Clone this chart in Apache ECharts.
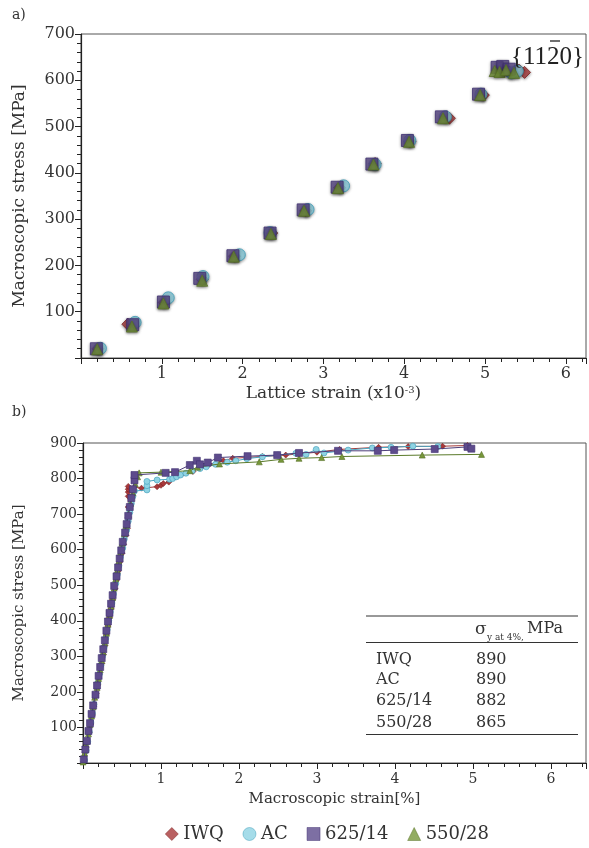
<!DOCTYPE html>
<html>
<head>
<meta charset="utf-8">
<script src="https://cdn.jsdelivr.net/npm/echarts@6/dist/echarts.min.js"></script>
<style>
  html, body { margin: 0; padding: 0; background: #fff; }
  #chart { width: 589px; height: 848px; }
</style>
</head>
<body>
<div id="chart"></div>
<script>
// series names
var names = ['IWQ', 'AC', '625/14', '550/28'];

// a) lattice strain (x10^-3) vs macroscopic stress, {11-20} reflection
var latticeIWQ = [[0.21,20],[0.58,73],[1.03,120],[1.5,170],[1.9,220],[2.36,270],[2.78,318],[3.2,368],[3.64,420],[4.07,468],[4.56,518],[4.98,568],[5.3,618],[5.42,622],[5.49,617]];
var latticeAC = [[0.24,21],[0.67,77],[1.08,130],[1.51,176],[1.96,223],[2.34,271],[2.81,321],[3.25,372],[3.64,418],[4.07,470],[4.51,521],[4.95,570],[5.2,625],[5.33,616],[5.4,620]];
var lattice625 = [[0.19,20],[0.64,72],[1.02,121],[1.47,172],[1.88,221],[2.34,270],[2.75,320],[3.17,369],[3.6,419],[4.04,470],[4.46,521],[4.92,570],[5.15,628],[5.22,630],[5.3,624]];
var lattice550 = [[0.2,19],[0.63,68],[1.02,118],[1.5,167],[1.89,219],[2.35,268],[2.76,318],[3.18,367],[3.62,418],[4.06,467],[4.48,518],[4.94,568],[5.12,620],[5.18,618],[5.26,622],[5.36,616]];

// b) macroscopic strain [%] vs macroscopic stress [MPa]
var curveIWQ = [[0.01,5],[0.03,30],[0.05,55],[0.08,85],[0.1,110],[0.12,135],[0.14,160],[0.17,195],[0.19,220],[0.21,250],[0.24,280],[0.26,305],[0.28,330],[0.3,360],[0.32,385],[0.34,410],[0.36,435],[0.38,460],[0.41,490],[0.43,515],[0.45,540],[0.47,565],[0.5,590],[0.52,615],[0.55,640],[0.57,660],[0.58,690],[0.58,720],[0.58,750],[0.58,762],[0.58,770],[0.58,778],[0.75,773],[0.95,777],[1.0,781],[1.03,786],[1.1,790],[1.41,820],[1.53,834],[1.62,840],[1.8,850],[1.92,857],[2.3,862],[2.6,866],[3.0,874],[3.29,882],[3.79,888],[4.17,890],[4.61,891],[4.93,893]];
var curveAC = [[0.02,8],[0.04,35],[0.06,60],[0.08,88],[0.1,115],[0.12,140],[0.14,165],[0.16,190],[0.19,225],[0.21,250],[0.23,275],[0.25,300],[0.27,325],[0.29,350],[0.31,375],[0.33,400],[0.35,425],[0.37,450],[0.39,475],[0.42,505],[0.44,530],[0.46,555],[0.48,580],[0.51,605],[0.53,630],[0.56,655],[0.58,680],[0.6,705],[0.62,730],[0.64,750],[0.66,765],[0.82,768],[0.82,780],[0.82,792],[0.95,796],[1.11,798],[1.15,800],[1.2,805],[1.25,810],[1.32,815],[1.4,822],[1.5,828],[1.58,833],[1.7,840],[1.85,846],[1.96,850],[2.1,856],[2.3,861],[2.5,866],[2.73,871],[2.86,868],[2.99,882],[3.09,872],[3.4,880],[3.71,886],[3.95,888],[4.23,891],[4.55,890]];
var curve625 = [[0.01,10],[0.03,38],[0.05,62],[0.07,90],[0.09,112],[0.11,138],[0.13,162],[0.16,192],[0.18,218],[0.2,245],[0.22,270],[0.24,295],[0.26,320],[0.28,345],[0.3,372],[0.32,398],[0.34,422],[0.36,448],[0.38,472],[0.4,498],[0.43,525],[0.45,550],[0.47,575],[0.49,598],[0.51,622],[0.54,648],[0.56,672],[0.58,695],[0.6,720],[0.62,745],[0.64,770],[0.66,795],[0.66,810],[1.06,816],[1.18,818],[1.37,838],[1.46,850],[1.5,840],[1.6,845],[1.73,859],[2.11,863],[2.49,866],[2.77,872],[3.27,878],[3.78,878],[3.99,880],[4.51,883],[4.93,889],[4.98,884]];
var curve550 = [[0.0,3],[0.02,28],[0.04,52],[0.07,82],[0.09,108],[0.11,132],[0.13,158],[0.15,185],[0.18,212],[0.2,238],[0.22,262],[0.24,288],[0.26,312],[0.28,338],[0.3,365],[0.32,390],[0.34,415],[0.36,440],[0.38,465],[0.4,492],[0.42,518],[0.44,542],[0.46,568],[0.48,592],[0.5,618],[0.53,645],[0.55,668],[0.58,700],[0.61,730],[0.64,760],[0.67,785],[0.7,805],[0.72,816],[1.0,818],[1.37,822],[1.47,832],[1.75,841],[2.26,847],[2.54,854],[2.77,857],[3.06,859],[3.32,862],[4.35,866],[5.11,868]];

// yield stress table
var tableNames = ['IWQ', 'AC', '625/14', '550/28'];
var tableValues = [890, 890, 882, 865];

var fills = ['#a8383a', '#8fd3e3', '#5d4b8c', '#77973a'];
var edges = ['#7a2020', '#3d9cb8', '#3f3070', '#566f25'];
var lineColors = ['#a33a3a', '#4aa7c2', '#4e3f7a', '#5a7a2a'];
var symbols = ['diamond', 'circle', 'rect', 'triangle'];
var topSizes = [12, 12, 12, 11];
var botSizes = [6, 6, 7, 6];
var lattice = [latticeIWQ, latticeAC, lattice625, lattice550];
var curves = [curveIWQ, curveAC, curve625, curve550];

var font = 'DejaVu Serif';
var txt = '#333';

var chart = echarts.init(document.getElementById('chart'));

function intLabel(v) {
  return (v === 0 || Math.round(v) !== v) ? '' : String(v);
}

function valueAxis(gi, opt) {
  return Object.assign({
    type: 'value',
    gridIndex: gi,
    axisLine: {lineStyle: {color: '#222', width: 1.2}},
    axisTick: {show: true, inside: false, length: 6, lineStyle: {color: '#222'}},
    minorTick: {show: true, splitNumber: 5, length: 4, lineStyle: {color: '#222'}},
    splitLine: {show: false},
    nameLocation: 'middle',
    nameTextStyle: {fontFamily: font, color: txt}
  }, opt);
}

var series = [];
names.forEach(function(n, i) {
  series.push({
    name: n,
    type: 'scatter',
    xAxisIndex: 0,
    yAxisIndex: 0,
    symbol: symbols[i],
    symbolSize: topSizes[i],
    z: 2 + i,
    itemStyle: {
      color: fills[i],
      borderColor: edges[i],
      borderWidth: 1,
      shadowBlur: 3,
      shadowColor: 'rgba(0,0,0,0.45)',
      shadowOffsetY: 1
    },
    data: lattice[i]
  });
});
var botZ = [2, 3, 5, 4];
names.forEach(function(n, i) {
  series.push({
    name: n,
    type: 'line',
    xAxisIndex: 1,
    yAxisIndex: 1,
    symbol: symbols[i],
    symbolSize: botSizes[i],
    showAllSymbol: true,
    z: botZ[i],
    lineStyle: {color: lineColors[i], width: 1},
    itemStyle: {color: fills[i], borderColor: edges[i], borderWidth: 0.6},
    data: curves[i]
  });
});

var graphic = [
  {type: 'text', left: 12, top: 8, style: {text: 'a)', font: '14px ' + font, fill: txt}},
  {type: 'text', left: 12, top: 405, style: {text: 'b)', font: '14px ' + font, fill: txt}},
  {type: 'text', x: 511, y: 57, style: {text: '{1120}', font: '25px "Liberation Serif"', fill: '#222', textVerticalAlign: 'middle'}, z: 20},
  {type: 'line', shape: {x1: 550, y1: 41, x2: 560, y2: 41}, style: {stroke: '#222', lineWidth: 1.3}, z: 20},
  // table
  {type: 'line', shape: {x1: 366, y1: 616, x2: 578, y2: 616}, style: {stroke: '#333', lineWidth: 1}},
  {type: 'line', shape: {x1: 366, y1: 642.5, x2: 578, y2: 642.5}, style: {stroke: '#333', lineWidth: 1}},
  {type: 'line', shape: {x1: 366, y1: 734.5, x2: 578, y2: 734.5}, style: {stroke: '#333', lineWidth: 1}},
  {type: 'text', x: 475, y: 630, style: {text: 'σ', font: '17px ' + font, fill: txt, textVerticalAlign: 'middle'}},
  {type: 'text', x: 487, y: 638, style: {text: 'y at 4%,', font: '9px ' + font, fill: txt, textVerticalAlign: 'middle'}},
  {type: 'text', x: 527, y: 629, style: {text: 'MPa', font: '16px ' + font, fill: txt, textVerticalAlign: 'middle'}}
];
var rowY = [660, 680, 701, 723];
tableNames.forEach(function(n, i) {
  graphic.push({type: 'text', x: 376, y: rowY[i], style: {text: n, font: '16px ' + font, fill: txt, textVerticalAlign: 'middle'}});
  graphic.push({type: 'text', x: 476, y: rowY[i], style: {text: String(tableValues[i]), font: '16px ' + font, fill: txt, textVerticalAlign: 'middle'}});
});

var option = {
  backgroundColor: '#fff',
  animation: false,
  textStyle: {fontFamily: font},
  grid: [
    {left: 81, top: 34, right: 2, bottom: 490, show: true, borderColor: '#555', borderWidth: 1, backgroundColor: 'transparent'},
    {left: 83, top: 443, right: 1, bottom: 85, show: true, borderColor: '#555', borderWidth: 1, backgroundColor: 'transparent'}
  ],
  xAxis: [
    valueAxis(0, {
      min: 0, max: 6.25, interval: 1,
      name: '{n|Lattice strain (x10}{s|-3}{n|)}',
      nameGap: 27,
      nameTextStyle: {
        fontFamily: font, color: txt,
        rich: {
          n: {fontFamily: font, fontSize: 17, color: txt},
          s: {fontFamily: font, fontSize: 10, color: txt, verticalAlign: 'top', padding: [0, 0, 8, 0]}
        }
      },
      axisLabel: {fontFamily: font, fontSize: 16, color: txt, margin: 8, formatter: intLabel}
    }),
    valueAxis(1, {
      min: 0, max: 6.45, interval: 1,
      name: 'Macroscopic strain[%]',
      nameGap: 29,
      nameTextStyle: {fontFamily: font, fontSize: 15, color: txt},
      axisLabel: {fontFamily: font, fontSize: 14, color: txt, margin: 9, formatter: intLabel}
    })
  ],
  yAxis: [
    valueAxis(0, {
      min: 0, max: 700, interval: 100,
      name: 'Macroscopic stress [MPa]',
      nameGap: 53,
      nameTextStyle: {fontFamily: font, fontSize: 17, color: txt},
      axisLabel: {fontFamily: font, fontSize: 16, color: txt, margin: 6, formatter: intLabel}
    }),
    valueAxis(1, {
      min: 0, max: 900, interval: 100,
      name: 'Macroscopic stress [MPa]',
      nameGap: 56,
      nameTextStyle: {fontFamily: font, fontSize: 15, color: txt},
      axisLabel: {fontFamily: font, fontSize: 14, color: txt, margin: 6, formatter: intLabel}
    })
  ],
  legend: {
    left: 160,
    top: 820,
    itemWidth: 13,
    itemHeight: 13,
    itemGap: 19,
    textStyle: {fontFamily: font, fontSize: 18, color: txt},
    data: names.map(function(n, i) {
      return {name: n, icon: symbols[i], itemStyle: {color: fills[i], borderColor: edges[i], borderWidth: 0.6}};
    })
  },
  graphic: graphic,
  series: series
};

chart.setOption(option);
</script>
</body>
</html>
